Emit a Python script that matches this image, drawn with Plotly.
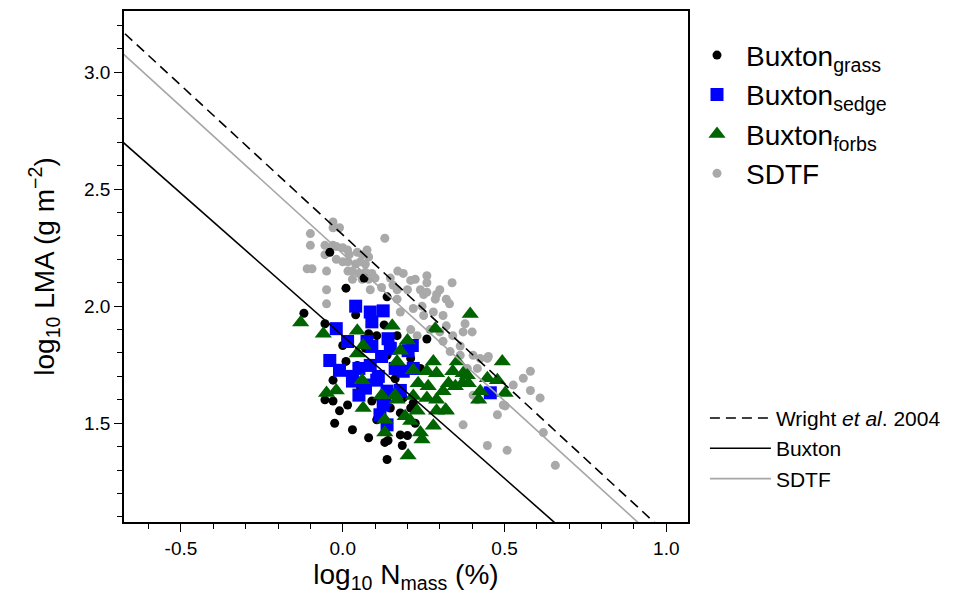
import numpy as np
import plotly.graph_objects as go

# ---------------- data ----------------
sdtf_x = [-0.10, -0.10, -0.03, -0.03, -0.01, -0.055, -0.03, -0.02, 0.0, 0.015, 0.02, 0.045, 0.06, 0.075, 0.08,
          0.13, -0.055, -0.02, 0.0, 0.016, 0.04, 0.055, 0.07, -0.11, -0.095, -0.05, 0.016, 0.03, 0.05, 0.07,
          0.09, -0.05, -0.05, 0.03, 0.06, 0.085, 0.10, 0.12, 0.147, 0.155, 0.17, 0.187, 0.21, 0.224, 0.26,
          0.26, 0.168, 0.20, 0.24, 0.25, 0.30, 0.338, 0.286, 0.32, 0.168, 0.178, 0.218, 0.25, 0.28, 0.31,
          0.32, 0.30, 0.27, 0.21, 0.23, 0.31, 0.34, 0.332, 0.372, 0.40, 0.363, 0.363, 0.403, 0.425, 0.447,
          0.385, 0.416, 0.58, 0.558, 0.58, 0.61, 0.527, 0.496, 0.478, 0.372, 0.447, 0.508, 0.657, 0.62,
          0.403, 0.416, 0.45, 0.502, 0.08, 0.29, 0.245, 0.33, 0.378, 0.26]
sdtf_y = [2.31, 2.26, 2.36, 2.335, 2.335, 2.26, 2.26, 2.255, 2.25, 2.24, 2.22, 2.23, 2.22, 2.24, 2.21,
          2.29, 2.22, 2.20, 2.19, 2.19, 2.18, 2.19, 2.18, 2.16, 2.16, 2.15, 2.15, 2.15, 2.14, 2.145,
          2.14, 2.07, 2.01, 2.115, 2.115, 2.07, 2.12, 2.08, 2.12, 2.09, 2.15, 2.14, 2.11, 2.115, 2.13,
          2.10, 2.07, 2.07, 2.07, 2.05, 2.07, 2.10, 2.03, 2.03, 2.03, 1.975, 1.99, 1.96, 1.975, 1.96,
          1.916, 1.89, 1.90, 1.90, 1.874, 1.85, 1.874, 1.806, 1.89, 1.89, 1.83, 1.79, 1.79, 1.777, 1.777,
          1.734, 1.734, 1.722, 1.692, 1.64, 1.608, 1.663, 1.578, 1.536, 1.493, 1.405, 1.384, 1.32, 1.46,
          1.62, 1.60, 1.785, 1.574, 2.115, 2.05, 2.00, 2.01, 1.925, 2.06]

grass_x = [-0.04, 0.066, 0.01, -0.12, 0.137, 0.04, 0.128, -0.055, 0.26, 0.08, 0.105, 0.168, -0.03,
           -0.055, -0.03, -0.01, 0.015, 0.03, 0.08, 0.13, 0.137, 0.178, 0.20, 0.184, 0.105, 0.09, 0.115,
           0.155, 0.187, 0.218, 0.21, 0.045, 0.137, 0.01, 0.0, 0.178, 0.14, 0.055, 0.162, 0.21, 0.07,
           0.24, 0.147, 0.224, -0.025]
grass_y = [2.23, 2.12, 2.077, 1.97, 2.04, 1.963, 1.92, 1.925, 1.86, 1.882, 1.874, 1.874, 1.684,
           1.60, 1.595, 1.553, 1.578, 1.472, 1.438, 1.418, 1.345, 1.45, 1.447, 1.405, 1.515, 1.595, 1.608,
           1.629, 1.608, 1.587, 1.565, 1.747, 1.79, 1.764, 1.832, 1.544, 1.426, 1.65, 1.69, 1.777, 1.82,
           1.734, 1.565, 1.50, 1.50]

sedge_x = [0.04, 0.085, 0.125, -0.02, 0.09, 0.015, 0.075, 0.14, 0.202, -0.04, -0.01, 0.05, 0.085,
           0.03, 0.07, 0.105, 0.05, 0.137, 0.178, 0.187, 0.218, 0.125, 0.115, 0.137, 0.456, 0.03, 0.09,
           0.12, 0.11, 0.13, 0.147, 0.215, 0.162, 0.07]
sedge_y = [2.0, 1.975, 1.98, 1.904, 1.933, 1.849, 1.849, 1.861, 1.81, 1.768, 1.726, 1.734, 1.747,
           1.68, 1.663, 1.684, 1.62, 1.637, 1.64, 1.722, 1.734, 1.578, 1.536, 1.493, 1.63, 1.70, 1.828,
           1.785, 1.70, 1.60, 1.82, 1.832, 1.734, 1.65]

forbs_x = [-0.13, -0.06, 0.045, 0.153, 0.286, 0.394, 0.063, 0.20, 0.178, 0.045, 0.168, 0.28, 0.354,
           0.493, 0.218, 0.26, 0.29, 0.34, 0.372, 0.447, 0.478, -0.02, 0.06, 0.12, 0.162, 0.233, 0.264,
           0.31, 0.348, 0.388, 0.425, 0.502, -0.05, 0.063, 0.168, 0.26, 0.29, 0.23, 0.29, 0.32, 0.13,
           0.13, 0.21, 0.24, 0.28, 0.245, 0.202, 0.327, 0.37, 0.218, 0.42, 0.318, 0.193, 0.385]
forbs_y = [1.93, 1.882, 1.895, 1.916, 1.904, 1.967, 1.832, 1.853, 1.81, 1.798, 1.764, 1.764, 1.764,
           1.764, 1.726, 1.722, 1.713, 1.722, 1.713, 1.692, 1.684, 1.64, 1.684, 1.62, 1.62, 1.671, 1.658,
           1.637, 1.658, 1.671, 1.637, 1.629, 1.629, 1.565, 1.60, 1.608, 1.60, 1.553, 1.553, 1.553, 1.515,
           1.46, 1.51, 1.46, 1.489, 1.43, 1.362, 1.671, 1.671, 1.616, 1.60, 1.557, 1.53, 1.705]

line_names = ["Wright <i>et al</i>. 2004", "Buxton", "SDTF"]
line_intercepts = [2.305, 1.873, 2.224]
line_slopes = [-1.276, -1.218, -1.258]

x_range = [-0.676, 1.067]
y_range = [1.078, 3.261]
x_ticks = [-0.5, 0.0, 0.5, 1.0]
y_ticks = [1.5, 2.0, 2.5, 3.0]
x_ticklabels = ["-0.5", "0.0", "0.5", "1.0"]
y_ticklabels = ["1.5", "2.0", "2.5", "3.0"]

FONT = "Liberation Sans, Arial, sans-serif"

fig = go.Figure()

fig.add_trace(go.Scatter(x=sdtf_x, y=sdtf_y, mode="markers", name="SDTF",
                         marker=dict(symbol="circle", size=9, color="#A9A9A9"),
                         legend="legend", legendrank=4))
fig.add_trace(go.Scatter(x=grass_x, y=grass_y, mode="markers", name="Buxton<sub>grass</sub>",
                         marker=dict(symbol="circle", size=9, color="black"),
                         legend="legend", legendrank=1))
fig.add_trace(go.Scatter(x=sedge_x, y=sedge_y, mode="markers", name="Buxton<sub>sedge</sub>",
                         marker=dict(symbol="square", size=13, color="#0000FF"),
                         legend="legend", legendrank=2))
fig.add_trace(go.Scatter(x=forbs_x, y=forbs_y, mode="markers", name="Buxton<sub>forbs</sub>",
                         marker=dict(symbol="triangle-up", size=15, color="#006400"),
                         legend="legend", legendrank=3))

line_styles = [dict(color="black", width=1.6, dash="10px,6px"),
               dict(color="black", width=1.6),
               dict(color="#A6A6A6", width=1.6)]
xl = np.array([-1.0, 1.5])
for i, (nm, b0, b1) in enumerate(zip(line_names, line_intercepts, line_slopes)):
    fig.add_trace(go.Scatter(x=xl, y=b0 + b1 * xl, mode="lines", name=nm,
                             line=line_styles[i], legend="legend2", legendrank=10 + i))

axis_common = dict(showline=True, linecolor="black", linewidth=1.6, mirror=True,
                   ticks="outside", ticklen=8, tickwidth=1.3, tickcolor="black",
                   showgrid=False, zeroline=False,
                   tickfont=dict(family=FONT, size=19, color="black"),
                   minor=dict(ticks="outside", ticklen=5, tickwidth=1.2, tickcolor="black",
                              dtick=0.1, showgrid=False))

fig.update_xaxes(range=x_range, tickvals=x_ticks, ticktext=x_ticklabels,
                 title=dict(text="log<sub>10</sub> N<sub>mass</sub> (%)",
                            font=dict(family=FONT, size=28, color="black"), standoff=7),
                 **axis_common)
fig.update_yaxes(range=y_range, tickvals=y_ticks, ticktext=y_ticklabels,
                 title=dict(text="log<sub>10</sub> LMA (g m<sup>−2</sup>)",
                            font=dict(family=FONT, size=28, color="black"), standoff=21),
                 **axis_common)

fig.update_layout(
    width=966, height=594,
    margin=dict(l=124, r=278, t=9, b=68),
    plot_bgcolor="white", paper_bgcolor="white",
    font=dict(family=FONT, color="black"),
    legend=dict(x=1.0, xanchor="left", y=0.962, yanchor="top",
                font=dict(family=FONT, size=28, color="black"),
                bgcolor="rgba(0,0,0,0)", itemwidth=48, tracegroupgap=0),
    legend2=dict(x=1.030, xanchor="left", y=0.243, yanchor="top",
                 font=dict(family=FONT, size=21, color="black"),
                 bgcolor="rgba(0,0,0,0)", itemwidth=61, tracegroupgap=0),
)

fig.write_html("out.html")
